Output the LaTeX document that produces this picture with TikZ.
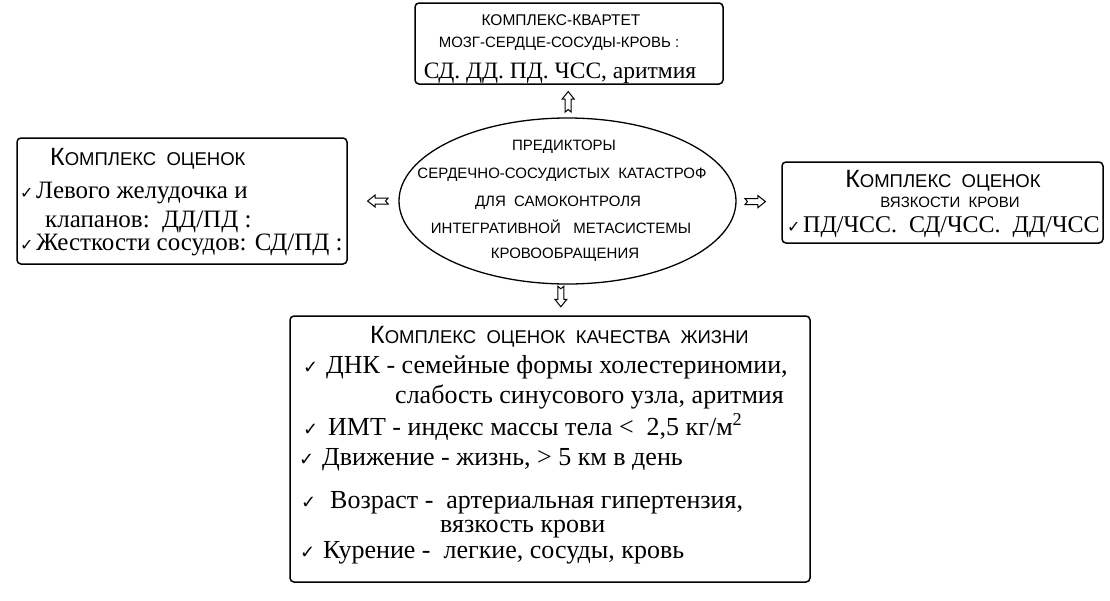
\documentclass[tikz,border=0pt]{standalone}
\usepackage{fontspec}
\setmainfont{Liberation Serif}
\newfontfamily\sansf{Liberation Sans}
\newfontfamily\symf{DejaVu Sans}
\usetikzlibrary{calc,shapes.geometric}
\newcommand\fsz[1]{\fontsize{#1}{#1}\selectfont}
\newcommand\bigK[2]{{\sansf\fsz{25}#1}{\sansf\fsz{18.5}#2}}
\newcommand\chk{{\symf\fsz{18}✓}}
\newcommand\chks{{\symf\fsz{16}✓}}
\begin{document}
\begin{tikzpicture}[x=1pt,y=-1pt,
  box/.style={draw, line width=1.5pt, rounded corners=4pt, inner sep=0},
  ctxt/.style={inner sep=0, anchor=base},
  ltxt/.style={inner sep=0, anchor=base west},
  harrow/.pic={\draw[line width=1pt, line join=miter]
     (-10,-3) -- (3,-3) -- (3,-6) -- (10.5,0) -- (3,6) -- (3,3) -- (-10,3) -- (-7.5,0) -- cycle;}]
\useasboundingbox (0,0) rectangle (1110,600);

% top box
\node[box, minimum width=308, minimum height=81] (top) at (569,43.5) {};
\node[ctxt, font=\sansf\fsz{15.5}] (t1) at (561,25) {КОМПЛЕКС-КВАРТЕТ};
\node[ctxt, font=\sansf\fsz{15}] (t2) at (559,47) {МОЗГ-СЕРДЦЕ-СОСУДЫ-КРОВЬ :};
\node[ctxt, font=\fsz{23.5}] (t3) at (560,78) {СД. ДД. ПД. ЧСС, аритмия};

% ellipse
\node[draw, ellipse, line width=1.3pt, minimum width=337, minimum height=166, inner sep=0] (ell) at (567.5,201) {};
\node[ctxt, font=\sansf\fsz{15}] (e1) at (564,150) {ПРЕДИКТОРЫ};
\node[ctxt, font=\sansf\fsz{15}] (e2) at (562,178) {СЕРДЕЧНО-СОСУДИСТЫХ\ \ КАТАСТРОФ};
\node[ctxt, font=\sansf\fsz{15}] (e3) at (558,206) {ДЛЯ\ \ САМОКОНТРОЛЯ};
\node[ctxt, font=\sansf\fsz{15}] (e4) at (561,233) {ИНТЕГРАТИВНОЙ\ \ \ МЕТАСИСТЕМЫ};
\node[ctxt, font=\sansf\fsz{15}] (e5) at (565,258) {КРОВООБРАЩЕНИЯ};

% left box
\node[box, minimum width=330, minimum height=126] (left) at (182,201) {};
\node[ltxt] (l0) at (50,165) {\bigK{К}{ОМПЛЕКС\ \ ОЦЕНОК}};
\node[ltxt] (lc1) at (20,198) {\chks};
\node[ltxt, font=\fsz{25}] (l1) at (36,198) {Левого желудочка и};
\node[ltxt, font=\fsz{25}] (l2) at (45,227) {клапанов:\ \ ДД/ПД :};
\node[ltxt] (lc2) at (20,250) {\chks};
\node[ltxt, font=\fsz{25}] (l3) at (36,250) {Жесткости сосудов: СД/ПД :};

% right box
\node[box, minimum width=321, minimum height=81] (right) at (942.5,202.5) {};
\node[ctxt] (r0) at (943,187) {\bigK{К}{ОМПЛЕКС\ \ ОЦЕНОК}};
\node[ctxt, font=\sansf\fsz{15}] (r1) at (950,207) {ВЯЗКОСТИ\ \ КРОВИ};
\node[ltxt] (rc) at (787,232) {\chks};
\node[ltxt, font=\fsz{24}] (r2) at (803,232) {ПД/ЧСС.\ \ СД/ЧСС.\ \ ДД/ЧСС};

% bottom box
\node[box, minimum width=520, minimum height=266] (bot) at (550,449) {};
\node[ltxt] (b0) at (370,343) {\bigK{К}{ОМПЛЕКС\ \ ОЦЕНОК\ \ КАЧЕСТВА\ \ ЖИЗНИ}};
\node[ltxt] (bc1) at (303,373) {\chk};
\node[ltxt, font=\fsz{26}] (b1) at (326,373) {ДНК - семейные формы\ холестериномии,};
\node[ltxt, font=\fsz{26}] (b2) at (395,403) {слабость синусового узла, аритмия};
\node[ltxt] (bc2) at (303,435) {\chk};
\node[ltxt, font=\fsz{26}] (b3) at (328,435) {ИМТ - индекс массы тела <\ \ 2,5 кг/м\textsuperscript{2}};
\node[ltxt] (bc3) at (299,465) {\chk};
\node[ltxt, font=\fsz{26}] (b4) at (322,465) {Движение - жизнь, > 5 км в день};
\node[ltxt] (bc4) at (301,508) {\chk};
\node[ltxt, font=\fsz{26}] (b5) at (330,508) {Возраст -\ \ артериальная гипертензия,};
\node[ltxt, font=\fsz{26}] (b6) at (440,532) {вязкость крови};
\node[ltxt] (bc5) at (300,558) {\chk};
\node[ltxt, font=\fsz{26}] (b7) at (323,558) {Курение -\ \ легкие, сосуды, кровь};

% hollow arrows
\pic[rotate=90] at ($(ell.north)!0.47!(top.south)$) {harrow};
\pic[rotate=180] at ($(ell.west)!0.4!(left.east)$) {harrow};
\pic at ($(ell.east)!0.41!(right.west)$) {harrow};
\pic[rotate=-90] at ($(ell.south)!0.38!(bot.north)$) {harrow};
\end{tikzpicture}
\end{document}
